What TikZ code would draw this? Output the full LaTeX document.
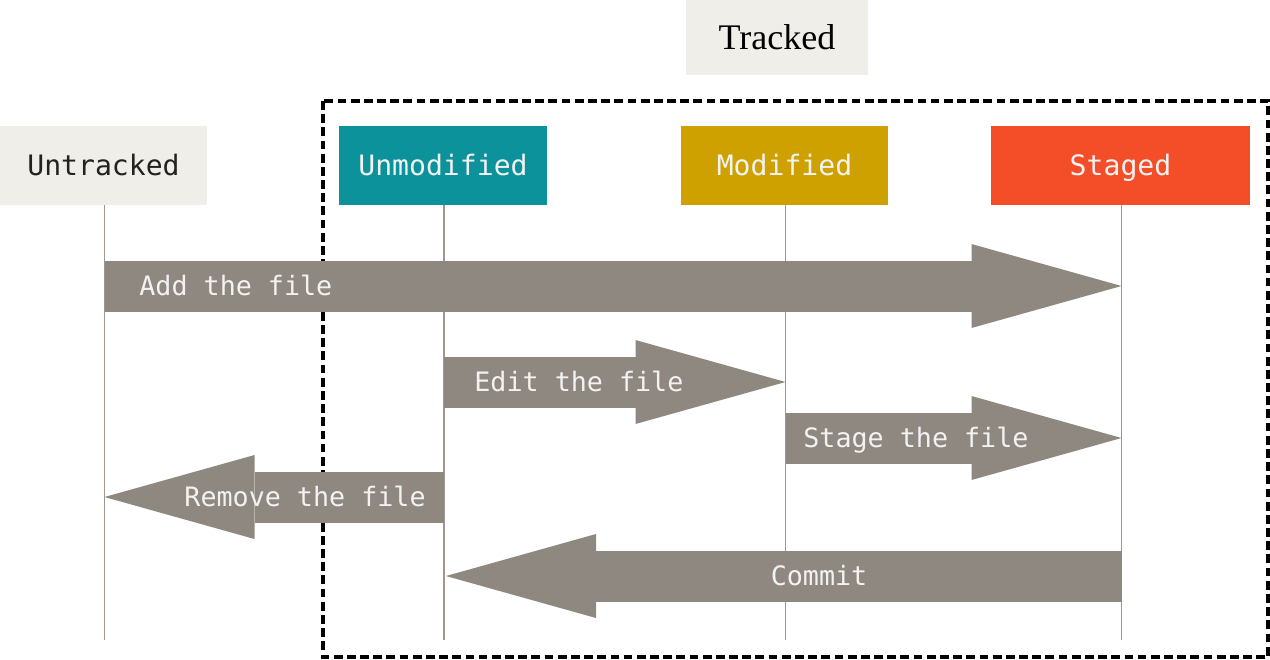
\documentclass[tikz,border=0pt]{standalone}
\usepackage{fontspec}
\setmainfont{Liberation Serif}
\setmonofont{DejaVu Sans Mono}
\usetikzlibrary{arrows.meta, positioning}
\definecolor{PaleBox}{HTML}{EFEEE8}
\definecolor{TealState}{HTML}{0B929A}
\definecolor{GoldState}{HTML}{CEA100}
\definecolor{RedState}{HTML}{F44E29}
\definecolor{FlowGray}{HTML}{8F8880}
\definecolor{LifeGray}{HTML}{A0988F}
\definecolor{LabelWhite}{HTML}{F2F2F2}
\definecolor{DarkText}{HTML}{222222}
\tikzset{
  state/.style={minimum height=1.58cm, inner sep=0pt, text=LabelWhite,
    font=\ttfamily\fontsize{16}{19}\selectfont, text height=11.7pt, text depth=0pt},
  lifeline/.style={draw=LifeGray, line width=1.1pt},
  flow/.style={draw=FlowGray, line width=1.02cm,
    -{Triangle[length=3cm, width=1.68cm, line width=0pt]}},
  flowlabel/.style={inner sep=0pt, text=LabelWhite,
    font=\ttfamily\fontsize{15.2}{18}\selectfont, text height=11.1pt, text depth=0pt}
}

\begin{document}
\begin{tikzpicture}
\useasboundingbox (0,0) rectangle (25.4,-13.18);

% tracked area
\draw[line width=2pt, dash pattern=on 5pt off 2.5pt] (6.46,-2.02) rectangle (25.36,-13.14);
\node[
    fill=PaleBox,
    minimum width=3.64cm,
    minimum height=1.5cm,
    font=\fontsize{20.5}{24}\selectfont
] (tracked) at (15.54,-0.75) {Tracked};

% file states
\node[state, fill=PaleBox, text=DarkText, minimum width=4.14cm] (untracked) at (2.07,-3.31) {Untracked};
\node[state, fill=TealState, minimum width=4.16cm] (unmodified) at (8.86,-3.31) {Unmodified};
\node[state, fill=GoldState, minimum width=4.14cm] (modified) at (15.69,-3.31) {Modified};
\node[state, fill=RedState, minimum width=5.18cm] (staged) at (22.41,-3.31) {Staged};

\foreach \s in {untracked, unmodified, modified, staged}
  \draw[lifeline] ([xshift=0.02cm]\s.south) -- ++(0,-8.7);

% transitions
\draw[flow] ([xshift=0.02cm]untracked |- 0,-5.72) -- ([xshift=0.02cm]staged |- 0,-5.72);
\draw[flow] ([xshift=0.02cm]unmodified |- 0,-7.64) -- ([xshift=0.02cm]modified |- 0,-7.64);
\draw[flow] ([xshift=0.02cm]modified |- 0,-8.76) -- ([xshift=0.02cm]staged |- 0,-8.76);
\draw[flow] ([xshift=0.02cm]unmodified |- 0,-9.94) -- ([xshift=0.02cm]untracked |- 0,-9.94);
\draw[flow] ([xshift=0.02cm]staged |- 0,-11.52) -- ([xshift=0.06cm]unmodified |- 0,-11.52);

\node[flowlabel, anchor=west] (addlbl) at (2.78,-5.72) {Add the file};
\node[flowlabel, anchor=west] (editlbl) at (9.48,-7.64) {Edit the file};
\node[flowlabel, anchor=west] (stagelbl) at (16.06,-8.76) {Stage the file};
\node[flowlabel, anchor=east] (removelbl) at (8.52,-9.94) {Remove the file};
\node[flowlabel] (commitlbl) at (16.38,-11.52) {Commit};
\end{tikzpicture}
\end{document}
